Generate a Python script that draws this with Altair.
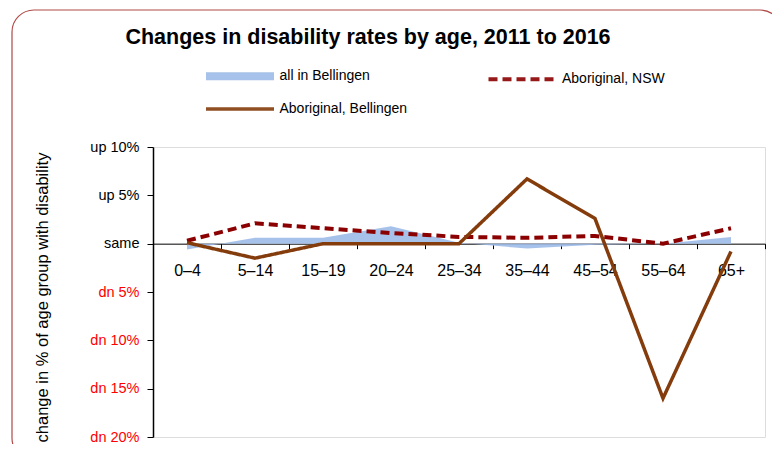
import altair as alt
import pandas as pd

ages = ["0–4", "5–14", "15–19", "20–24", "25–34", "35–44", "45–54", "55–64", "65+"]
all_bellingen = [-0.6, 0.6, 0.6, 1.8, 0.1, -0.5, -0.1, 0.0, 0.7]
aboriginal_nsw = [0.3, 2.1, 1.6, 1.1, 0.7, 0.6, 0.8, 0.0, 1.6]
aboriginal_bellingen = [0.1, -1.5, 0.0, 0.0, 0.0, 6.7, 2.6, -16.0, -0.8]
series_names = ["all in Bellingen", "Aboriginal, NSW", "Aboriginal, Bellingen"]
y_ticks = [-20, -15, -10, -5, 0, 5, 10]

rows = []
for name, vals in zip(series_names, [all_bellingen, aboriginal_nsw, aboriginal_bellingen]):
    for a, v in zip(ages, vals):
        rows.append({"age": a, "series": name, "value": v})
df = pd.DataFrame(rows)

FONT = "Liberation Sans"
W, H = 612, 290
zero_offset = -(H * 20 / 30)

color_scale = alt.Scale(domain=series_names, range=["#9dbbe8", "#8b0000", "#843c0c"])
dash_scale = alt.Scale(domain=series_names, range=[[1, 0], [9, 5], [1, 0]])
width_scale = alt.Scale(type="ordinal", domain=series_names, range=[8, 4, 3.5])

legend = alt.Legend(
    title=None, orient="none", legendX=74.5, legendY=-83.5, columns=2,
    direction="horizontal", columnPadding=72.5, rowPadding=6,
    symbolType="M-4,0L4,0", symbolSize=289,
    labelOffset=27, labelFont=FONT, labelFontSize=14, labelColor="black", padding=0,
)

x_enc = alt.X(
    "age:N", sort=ages, bandPosition=0.5,
    scale=alt.Scale(type="band", paddingInner=0, paddingOuter=0),
    axis=alt.Axis(
        title=None, orient="bottom", offset=zero_offset, tickBand="extent",
        labelAngle=0, labelFont=FONT, labelFontSize=16, labelColor="black",
        labelPadding=14, domainColor="black", domainWidth=1, tickColor="black",
        tickSize=5, grid=False,
    ),
)
y_enc = alt.Y(
    "value:Q", stack=None,
    scale=alt.Scale(domain=[-20, 10], nice=False),
    axis=alt.Axis(
        values=y_ticks, grid=False,
        labelExpr="datum.value > 0 ? 'up ' + datum.value + '%' : (datum.value == 0 ? 'same' : 'dn ' + abs(datum.value) + '%')",
        labelColor={"condition": {"test": "datum.value < 0", "value": "#ff0000"}, "value": "black"},
        labelFont=FONT, labelFontSize=14.5, labelPadding=8,
        domainColor="black", domainWidth=1.5, tickColor="black", tickSize=6,
        title="change in % of age group with disability", titleFont=FONT,
        titleFontSize=16.5, titleFontWeight="normal", titleColor="black",
        titleX=-103, titleY=150,
    ),
)

color_enc = alt.Color("series:N", scale=color_scale, legend=legend)
dash_enc = alt.StrokeDash("series:N", scale=dash_scale, legend=legend)
width_enc = alt.StrokeWidth("series:N", scale=width_scale, legend=legend)

frame = alt.Chart(pd.DataFrame({"frame": [0]})).mark_rect(
    filled=False, stroke="#b04a46", strokeWidth=1.2, cornerRadius=22
).encode(
    x=alt.value(-141), x2=alt.value(629), y=alt.value(-137), y2=alt.value(313)
)

area = alt.Chart(df).transform_filter(
    alt.datum.series == series_names[0]
).mark_area(opacity=0.9).encode(x=x_enc, y=y_enc, color=color_enc)

line_nsw = alt.Chart(df).transform_filter(
    alt.datum.series == series_names[1]
).mark_line().encode(x=x_enc, y=y_enc, color=color_enc, strokeDash=dash_enc, strokeWidth=width_enc)

line_bel = alt.Chart(df).transform_filter(
    alt.datum.series == series_names[2]
).mark_line().encode(x=x_enc, y=y_enc, color=color_enc, strokeDash=dash_enc, strokeWidth=width_enc)

chart = alt.layer(frame, area, line_nsw, line_bel).properties(
    width=W, height=H,
    title=alt.TitleParams(
        "Changes in disability rates by age, 2011 to 2016", font=FONT,
        fontSize=21.5, fontWeight="bold", color="black", anchor="middle",
        dx=-91, offset=-39,
    ),
    autosize=alt.AutoSizeParams(type="none"),
    padding={"left": 145, "top": 139, "right": 7, "bottom": 7},
).configure_view(stroke="#999999", strokeWidth=2.5).configure(background="white")

chart.save("out.html", embed_options={"renderer": "svg", "actions": False})
